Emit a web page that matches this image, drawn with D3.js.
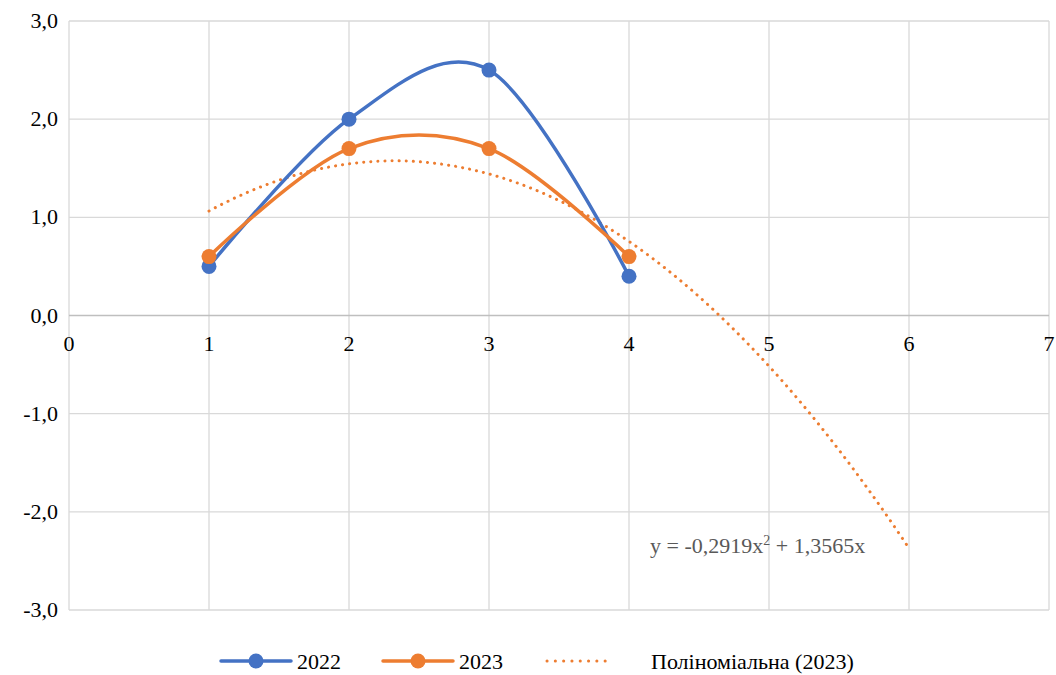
<!DOCTYPE html>
<html>
<head>
<meta charset="utf-8">
<script src="https://cdn.jsdelivr.net/npm/d3@7"></script>
<style>
  body { margin: 0; background: #fff; }
  text { font-family: "Liberation Serif", "DejaVu Serif", serif !important; }
</style>
</head>
<body>
<svg id="chart" width="1056" height="675"></svg>
<script>
const xValues = [1, 2, 3, 4];
const values2022 = [0.5, 2.0, 2.5, 0.4];
const values2023 = [0.6, 1.7, 1.7, 0.6];
const xTicks = [0, 1, 2, 3, 4, 5, 6, 7];
const yTicks = [-3, -2, -1, 0, 1, 2, 3];
const trendRange = [1, 6];

const serif = "Liberation Serif, DejaVu Serif, serif";
const margin = { top: 21, right: 7, bottom: 65, left: 69 };
const width = 1056 - margin.left - margin.right;
const height = 675 - margin.top - margin.bottom;

const svg = d3.select("#chart");
const g = svg.append("g").attr("transform", `translate(${margin.left},${margin.top})`);

const x = d3.scaleLinear().domain([0, 7]).range([0, width]);
const y = d3.scaleLinear().domain([-3, 3]).range([height, 0]);

const fmt = (d) => d3.format(".1f")(d).replace(".", ",").replace("−", "-");

// gridlines
g.selectAll(".vgrid").data(xTicks).enter().append("line")
  .attr("x1", (d) => x(d)).attr("x2", (d) => x(d))
  .attr("y1", 0).attr("y2", height)
  .attr("stroke", "#D9D9D9").attr("stroke-width", 1.3);
g.selectAll(".hgrid").data(yTicks).enter().append("line")
  .attr("y1", (d) => y(d)).attr("y2", (d) => y(d))
  .attr("x1", 0).attr("x2", width)
  .attr("stroke", (d) => (d === 0 ? "#BFBFBF" : "#D9D9D9")).attr("stroke-width", 1.3);

// tick labels
g.selectAll(".ylab").data(yTicks).enter().append("text")
  .style("font-family", serif)
  .attr("x", -11).attr("y", (d) => y(d) + 7)
  .attr("text-anchor", "end").attr("font-size", 22).attr("fill", "#000")
  .text(fmt);
g.selectAll(".xlab").data(xTicks).enter().append("text")
  .style("font-family", serif)
  .attr("x", (d) => x(d)).attr("y", y(0) + 35)
  .attr("text-anchor", "middle").attr("font-size", 22).attr("fill", "#000")
  .text((d) => d);

// trendline: least squares fit y = a x^2 + b x through origin on 2023 data
const s4 = d3.sum(xValues, (v) => v ** 4);
const s3 = d3.sum(xValues, (v) => v ** 3);
const s2 = d3.sum(xValues, (v) => v ** 2);
const s2y = d3.sum(xValues, (v, i) => v * v * values2023[i]);
const s1y = d3.sum(xValues, (v, i) => v * values2023[i]);
const det = s4 * s2 - s3 * s3;
const a = (s2y * s2 - s3 * s1y) / det;
const b = (s4 * s1y - s3 * s2y) / det;
const trendPts = d3.range(trendRange[0], trendRange[1] + 0.001, 0.05).map((v) => [v, a * v * v + b * v]);

g.append("path")
  .datum(trendPts)
  .attr("fill", "none")
  .attr("stroke", "#ED7D31")
  .attr("stroke-width", 3)
  .attr("stroke-linecap", "round")
  .attr("stroke-dasharray", "0.1 7")
  .attr("d", d3.line().x((d) => x(d[0])).y((d) => y(d[1])));

const eqFmt = (v) => Math.abs(v).toFixed(4).replace(".", ",");
const eq = g.append("text")
  .style("font-family", serif)
  .attr("x", x(4.15)).attr("y", y(-2.42))
  .attr("font-size", 22).attr("fill", "#595959");
eq.append("tspan").text(`y = ${a < 0 ? "-" : ""}${eqFmt(a)}x`);
eq.append("tspan").attr("dy", -8).attr("font-size", 14).text("2");
eq.append("tspan").attr("dy", 8).text(` ${b < 0 ? "-" : "+"} ${eqFmt(b)}x`);

// series
const series = [
  { name: "2022", values: values2022, color: "#4472C4" },
  { name: "2023", values: values2023, color: "#ED7D31" },
];
const line = d3.line().x((d) => x(d[0])).y((d) => y(d[1])).curve(d3.curveCardinal.tension(0));

series.forEach((s) => {
  const pts = xValues.map((v, i) => [v, s.values[i]]);
  g.append("path").datum(pts)
    .attr("fill", "none").attr("stroke", s.color).attr("stroke-width", 3.5)
    .attr("stroke-linecap", "round")
    .attr("d", line);
  g.selectAll(null).data(pts).enter().append("circle")
    .attr("cx", (d) => x(d[0])).attr("cy", (d) => y(d[1]))
    .attr("r", 7.5).attr("fill", s.color);
});

// legend
const legY = 661;
const leg = svg.append("g");
const legendItems = [
  { label: "2022", color: "#4472C4", x0: 221, type: "marker" },
  { label: "2023", color: "#ED7D31", x0: 383, type: "marker" },
  { label: "Поліноміальна (2023)", color: "#ED7D31", x0: 547, type: "dots" },
];
legendItems.forEach((it) => {
  if (it.type === "marker") {
    leg.append("line").attr("x1", it.x0).attr("x2", it.x0 + 70)
      .attr("y1", legY).attr("y2", legY)
      .attr("stroke", it.color).attr("stroke-width", 3.5).attr("stroke-linecap", "round");
    leg.append("circle").attr("cx", it.x0 + 35).attr("cy", legY).attr("r", 7.5).attr("fill", it.color);
    leg.append("text").style("font-family", serif).attr("x", it.x0 + 76).attr("y", legY + 8)
      .attr("font-size", 22).attr("fill", "#000").text(it.label);
  } else {
    leg.append("line").attr("x1", it.x0).attr("x2", it.x0 + 66)
      .attr("y1", legY).attr("y2", legY)
      .attr("stroke", it.color).attr("stroke-width", 3).attr("stroke-linecap", "round")
      .attr("stroke-dasharray", "0.1 8.2");
    leg.append("text").style("font-family", serif).attr("x", it.x0 + 104).attr("y", legY + 8)
      .attr("font-size", 22).attr("fill", "#000").text(it.label);
  }
});
</script>
</body>
</html>
